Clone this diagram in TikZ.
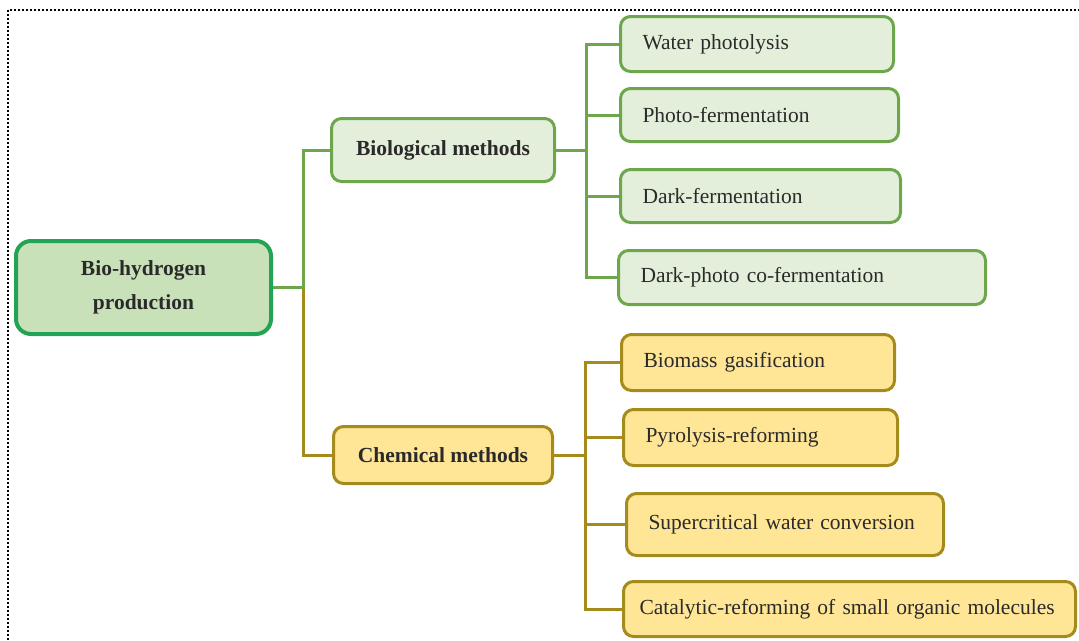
\documentclass[tikz,border=0pt]{standalone}
\usepackage{fontspec}
\setmainfont{Liberation Serif}
\usetikzlibrary{positioning}
\definecolor{rootline}{HTML}{23A355}
\definecolor{rootfill}{HTML}{C8E1B9}
\definecolor{bioline}{HTML}{6DA64B}
\definecolor{biofill}{HTML}{E3EFDA}
\definecolor{chemline}{HTML}{A58A1C}
\definecolor{chemfill}{HTML}{FFE596}
\definecolor{textgray}{HTML}{2A2A2A}

\begin{document}
\begin{tikzpicture}[x=1pt, y=-1pt, thick]
\tikzset{box/.style={rounded corners=10pt, line width=3pt, inner ysep=0pt, text=textgray, font=\fontsize{21.5}{34}\selectfont},
  rootbox/.style={box, draw=rootline, fill=rootfill, line width=4pt, rounded corners=15pt, align=center, font=\fontsize{21.5}{34}\selectfont\bfseries},
  biohead/.style={box, draw=bioline, fill=biofill, font=\fontsize{21.5}{34}\selectfont\bfseries},
  chemhead/.style={box, draw=chemline, fill=chemfill, font=\fontsize{21.5}{34}\selectfont\bfseries},
  bioleaf/.style={box, draw=bioline, fill=biofill, inner xsep=22pt, align=left, text width=#1},
  chemleaf/.style={box, draw=chemline, fill=chemfill, inner xsep=22pt, align=left, text width=#1},
  bioedge/.style={draw=bioline, line width=3pt},
  chemedge/.style={draw=chemline, line width=3pt}}
\useasboundingbox (0,0) rectangle (1079,640);
\clip (0,0) rectangle (1079,640);
\draw[line width=2pt, dash pattern=on 2pt off 2pt] (8,10) rectangle (1100,660);

% root and the two method groups
\node[rootbox, minimum width=255pt, minimum height=93pt] (root) at (143.5,287.5) {Bio-hydrogen\\production};
\node[biohead, minimum width=223pt, minimum height=63pt] (bio) at (443,150) {Biological methods};
\node[chemhead, minimum width=219pt, minimum height=57pt] (chem) at (443,455) {Chemical methods};

% biological leaves
\node[bioleaf=229pt, minimum height=55pt] (water) at (757,44) {Water photolysis};
\node[bioleaf=234pt, minimum height=53pt] (photo) at (759.5,115) {Photo-fermentation};
\node[bioleaf=236pt, minimum height=53pt] (dark) at (760.5,196) {Dark-fermentation};
\node[bioleaf=323pt, minimum height=54pt] (darkphoto) at (802,277.5) {Dark-photo co-fermentation};

% chemical leaves
\node[chemleaf=229pt, minimum height=56pt] (gasif) at (758,362.5) {Biomass gasification};
\node[chemleaf=230pt, minimum height=56pt] (pyro) at (760.5,437.5) {Pyrolysis-reforming};
\node[chemleaf=273pt, minimum height=62pt] (scw) at (785,524.5) {Supercritical water conversion};
\node[chemleaf=420pt, inner xsep=16pt, minimum height=55pt] (catal) at (849.5,609) {Catalytic-reforming of small organic molecules};

% connectors
\draw[chemedge] (root.east) ++(30,0) |- (chem.west);
\draw[bioedge] (root.east) -- ++(30,0) |- (bio.west);
\foreach \leaf in {water,photo,dark,darkphoto}
  \draw[bioedge] (bio.east) -- ++(30,0) |- (\leaf.west);
\foreach \leaf in {gasif,pyro,scw,catal}
  \draw[chemedge] (chem.east) -- ++(31,0) |- (\leaf.west);
\end{tikzpicture}
\end{document}
